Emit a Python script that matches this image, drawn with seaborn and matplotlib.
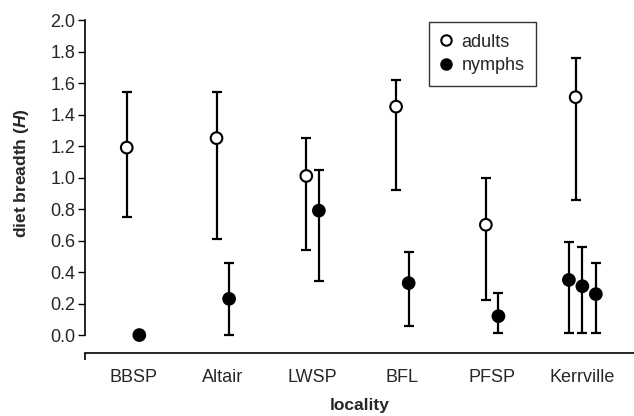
import numpy as np
import pandas as pd
import matplotlib
matplotlib.use("Agg")
import matplotlib.pyplot as plt
from matplotlib.lines import Line2D
import seaborn as sns

# data
localities = ["BBSP", "Altair", "LWSP", "BFL", "PFSP", "Kerrville"]

adult_site = ["BBSP", "Altair", "LWSP", "BFL", "PFSP", "Kerrville"]
adult_H = [1.19, 1.25, 1.01, 1.45, 0.70, 1.51]
adult_lo = [0.75, 0.61, 0.54, 0.92, 0.22, 0.86]
adult_hi = [1.54, 1.54, 1.25, 1.62, 1.00, 1.76]

nymph_site = ["BBSP", "Altair", "LWSP", "BFL", "PFSP", "Kerrville", "Kerrville", "Kerrville"]
nymph_H = [0.00, 0.23, 0.79, 0.33, 0.12, 0.35, 0.31, 0.26]
nymph_lo = [np.nan, 0.00, 0.34, 0.06, 0.01, 0.01, 0.01, 0.01]
nymph_hi = [np.nan, 0.46, 1.05, 0.53, 0.27, 0.59, 0.56, 0.46]

yticks = np.arange(0, 2.01, 0.2)


def build(site, H, lo, hi, stage):
    df = pd.DataFrame({"site": site, "H": H, "lo": lo, "hi": hi})
    df["stage"] = stage
    df["x"] = df["site"].map({s: i for i, s in enumerate(localities)}).astype(float)
    return df


adults = build(adult_site, adult_H, adult_lo, adult_hi, "adults")
nymphs = build(nymph_site, nymph_H, nymph_lo, nymph_hi, "nymphs")

# horizontal dodge: adults left, nymphs right, several nymph samples spread out
adults["x"] -= 0.07
for s, grp in nymphs.groupby("site"):
    n = len(grp)
    offs = [0.07] if n == 1 else np.linspace(-0.145, 0.155, n)
    nymphs.loc[grp.index, "x"] += offs

data = pd.concat([adults, nymphs], ignore_index=True)

sns.set_theme(style="ticks")
plt.rcParams["font.family"] = ["Liberation Sans", "DejaVu Sans"]
plt.rcParams["mathtext.fontset"] = "custom"
plt.rcParams["mathtext.bfit"] = "Liberation Sans:bold:italic"
plt.rcParams["mathtext.bf"] = "Liberation Sans:bold"

fig = plt.figure(figsize=(6.34, 4.16), dpi=100)
ax = fig.add_axes([85 / 634, (416 - 352.7) / 416, 549 / 634, 332.7 / 416])

# error bars
eb = data.dropna(subset=["lo", "hi"])
ax.errorbar(eb["x"], eb["H"], yerr=[eb["H"] - eb["lo"], eb["hi"] - eb["H"]],
            fmt="none", ecolor="black", elinewidth=1.6, capsize=3.5, capthick=1.6, zorder=2)

sns.scatterplot(data=data, x="x", y="H", hue="stage",
                palette={"adults": "white", "nymphs": "black"},
                edgecolor="black", linewidth=1.5, s=70, ax=ax, zorder=3, legend=False)

ax.set_xlim(-0.535, 5.58)
ax.set_ylim(-0.112, 2.0)
ax.set_xticks(range(len(localities)))
ax.set_xticklabels(localities, fontsize=13)
ax.tick_params(axis="x", length=0, pad=12)
ax.set_xticks([-0.535], minor=True)
ax.tick_params(axis="x", which="minor", length=5, width=1.2, color="black")
ax.set_yticks(yticks)
ax.set_yticklabels([f"{v:.1f}" for v in yticks], fontsize=13)
ax.tick_params(axis="y", length=5, width=1, pad=2, color="black")

ax.spines["left"].set_bounds(0, 2.0)
ax.spines["top"].set_visible(False)
ax.spines["right"].set_visible(False)
for sp in ("left", "bottom"):
    ax.spines[sp].set_color("black")
    ax.spines[sp].set_linewidth(1.2)

ax.set_xlabel("locality", fontsize=12.5, fontweight="bold", labelpad=8.5)
ax.set_ylabel(r"diet breadth ($\mathbfit{H}$)", fontsize=12.5, fontweight="bold")
ax.yaxis.set_label_coords(-0.099, 0.54)

handles = [
    Line2D([], [], marker="o", ls="none", mfc="white", mec="black", mew=1.5, ms=7.5, label="adults"),
    Line2D([], [], marker="o", ls="none", mfc="black", mec="black", mew=1.5, ms=7.5, label="nymphs"),
]
leg = ax.legend(handles=handles, loc="upper left", bbox_to_anchor=(0.627, 0.994),
                borderaxespad=0, frameon=True, fancybox=False, fontsize=13,
                handletextpad=0.55, handlelength=0.6, borderpad=0.65, labelspacing=0.35)
leg.get_frame().set_edgecolor("black")
leg.get_frame().set_linewidth(1.0)

fig.savefig("out.png", dpi=100)
